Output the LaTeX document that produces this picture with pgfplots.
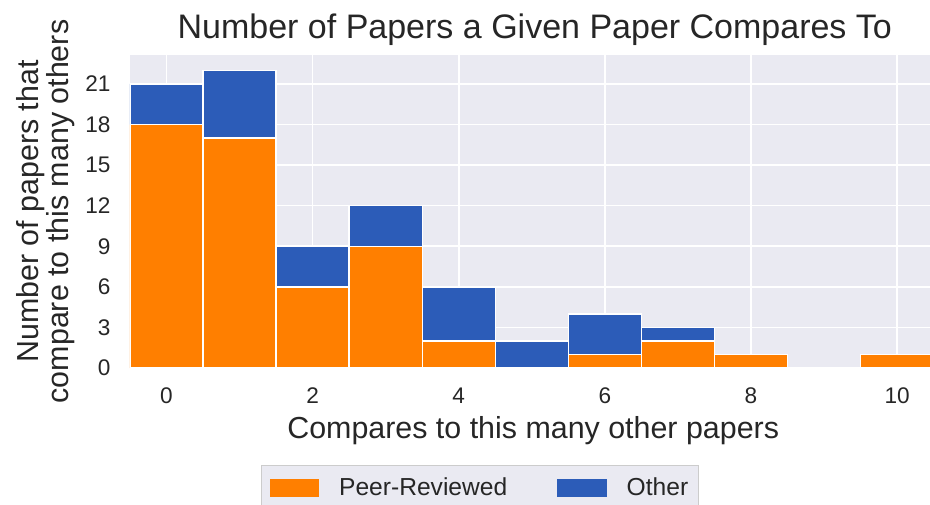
\documentclass[border=0pt]{standalone}
\usepackage{fontspec}
\setmainfont{Liberation Sans}
\usepackage{pgfplots}
\pgfplotsset{compat=1.18}
\definecolor{prOrange}{RGB}{255,127,0}
\definecolor{otBlue}{RGB}{44,92,184}
\definecolor{bgGray}{RGB}{234,234,242}
\definecolor{txt}{RGB}{38,38,38}
\begin{document}
\begin{tikzpicture}
\begin{axis}[
  at={(0,0)}, anchor=south west,
  scale only axis, width=400pt, height=156.5pt,
  ybar stacked, bar width=1,
  xmin=-0.5, xmax=10.45, ymin=0, ymax=23.14,
  xtick={0,2,...,10}, ytick={0,3,...,21},
  major tick length=0pt,
  /pgf/number format/assume math mode=true,
  axis background/.style={fill=bgGray},
  axis line style={draw=none},
  grid=major,
  major grid style={white, line width=0.8pt},
  tick label style={font=\fontsize{11.3}{13}\selectfont, text=txt},
  xticklabel style={yshift=-6.2pt},
  yticklabel style={xshift=-6.2pt},
  every axis title/.style={},
  title={Number of Papers a Given Paper Compares To},
  title style={font=\fontsize{17}{20}\selectfont, text=txt, at={(axis description cs:0.506,1)}, anchor=base, yshift=8.5pt, inner sep=0pt},
  xlabel={Compares to this many other papers},
  xlabel style={font=\fontsize{15.2}{18}\selectfont, text=txt, at={(axis description cs:0.504,0)}, anchor=base, yshift=-35pt, inner sep=0pt},
  ylabel={Number of papers that\\compare to this many others},
  ylabel style={font=\fontsize{15.2}{15}\selectfont, text=txt, align=center, at={(axis description cs:-0.105,0.5)}, anchor=center, inner sep=0pt},
  legend columns=2,
  legend style={
    at={(axis description cs:0.4375,-0.31)}, anchor=north,
    fill=bgGray, draw={rgb,255:red,204;green,204;blue,204},
    font=\fontsize{12.3}{14}\selectfont, text=txt,
    inner xsep=4pt, inner ysep=5pt,
    nodes={inner sep=1pt},
    /tikz/every odd column/.append style={column sep=9pt},
    /tikz/every even column/.append style={column sep=24pt},
  },
]
\addplot[fill=prOrange, draw=white, line width=0.7pt,
  legend image code/.code={\fill[prOrange] (0pt,-4pt) rectangle (24pt,4pt);}]
  coordinates {(0,18) (1,17) (2,6) (3,9) (4,2) (5,0) (6,1) (7,2) (8,1) (9,0) (10,1)};
\addlegendentry{Peer-Reviewed}
\addplot[fill=otBlue, draw=white, line width=0.7pt,
  legend image code/.code={\fill[otBlue] (0pt,-4pt) rectangle (24pt,4pt);}]
  coordinates {(0,3) (1,5) (2,3) (3,3) (4,4) (5,2) (6,3) (7,1) (8,0) (9,0) (10,0)};
\addlegendentry{Other}
\end{axis}
\pgfresetboundingbox
\useasboundingbox (-65pt,-68pt) rectangle (400pt,184pt);
\end{tikzpicture}
\end{document}
